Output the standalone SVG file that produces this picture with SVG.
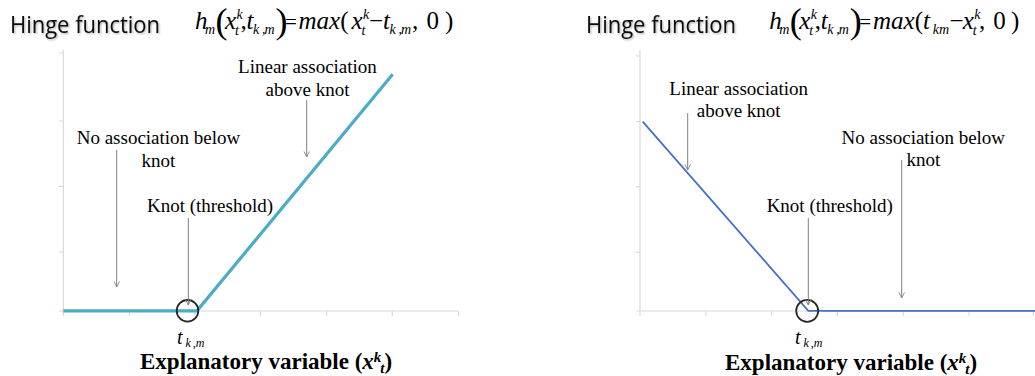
<svg xmlns="http://www.w3.org/2000/svg" width="1035" height="376" viewBox="0 0 1035 376">
<style>
.title{font-family:"Open Sans","Noto Sans","Liberation Sans",sans-serif;font-size:24px;fill:#0d0d0d;filter:url(#sh)}
.f{font-family:"Liberation Serif",serif;font-size:25px;font-style:italic;fill:#000}
.fn{font-family:"Liberation Serif",serif;font-size:25px;font-style:normal;fill:#000}
.eq{font-family:"Liberation Serif",serif;font-size:21px;font-style:normal;fill:#000}
.fs{font-family:"Liberation Serif",serif;font-size:14px;font-style:italic;fill:#000}
.fsn{font-family:"Liberation Serif",serif;font-size:14px;font-style:normal;fill:#000}
.paren{font-family:"Liberation Serif",serif;font-size:36px;fill:#000}
.ann{font-family:"Liberation Serif",serif;font-size:19px;fill:#000;text-anchor:middle}
.xl{font-family:"Liberation Serif",serif;font-size:23px;font-weight:bold;fill:#000}
.bi{font-style:italic}
.tk{font-family:"Liberation Serif",serif;font-style:italic;fill:#000}
.axis{stroke:#D9D9D9;stroke-width:1.2;fill:none}
.arrow{stroke:#7F7F7F;stroke-width:1;fill:none;marker-end:url(#ah)}
.knot{stroke:#262626;stroke-width:1.8;fill:none}
</style>
<defs>
<filter id="sh" x="-10%" y="-30%" width="120%" height="160%">
<feGaussianBlur in="SourceAlpha" stdDeviation="1"/>
<feOffset dx="1" dy="1" result="b"/>
<feComponentTransfer><feFuncA type="linear" slope="0.35"/></feComponentTransfer>
<feMerge><feMergeNode/><feMergeNode in="SourceGraphic"/></feMerge>
</filter>
<marker id="ah" viewBox="0 0 10 10" refX="9" refY="5" markerWidth="7" markerHeight="7" markerUnits="userSpaceOnUse" orient="auto">
<path d="M1,1 L9,5 L1,9" stroke="#7F7F7F" stroke-width="1.2" fill="none"/>
</marker>
</defs>

<g id="left-title">
<text class="title" x="10" y="33" textLength="150" lengthAdjust="spacingAndGlyphs">Hinge function</text>
</g>
<g id="left-formula">
<text class="f" x="195" y="29">h</text>
<text class="fs" x="205" y="34">m</text>
<text class="paren" x="215.5" y="33">(</text>
<text class="f" x="225" y="29">x</text>
<text class="fs" x="236.5" y="19">k</text>
<text class="fs" x="235" y="35">t</text>
<text class="fn" x="240.5" y="29">,</text>
<text class="f" x="246.5" y="29">t</text>
<text class="fs" x="253" y="34">k</text>
<text class="fsn" x="262" y="34">,</text>
<text class="fs" x="264.5" y="34">m</text>
<text class="paren" x="275.5" y="33">)</text>
<text class="eq" x="285" y="28.5">=</text>
<text class="f" x="298.5" y="29">max<tspan class="fn">(</tspan></text>
<text class="f" x="351.5" y="29">x</text>
<text class="fs" x="363" y="19">k</text>
<text class="fs" x="361.5" y="35">t</text>
<text class="fn" x="369" y="29">−</text>
<text class="f" x="383" y="29">t</text>
<text class="fs" x="389.5" y="34">k</text>
<text class="fsn" x="398.5" y="34">,</text>
<text class="fs" x="401" y="34">m</text>
<text class="fn" x="412" y="29">,</text>
<text class="fn" x="426.5" y="29">0</text>
<text class="fn" x="445" y="29">)</text>
</g>

<g id="left-axes">
<line class="axis" x1="63.3" y1="50" x2="63.3" y2="311"/>
<line class="axis" x1="63.3" y1="311" x2="458.3" y2="311"/>
<path class="axis" d="M59,53H63.3M59,121H63.3M59,186.5H63.3M59,252H63.3M59,311H63.3"/>
<path class="axis" d="M63.3,311V316M129.3,311V316M195,311V316M260.7,311V316M326.7,311V316M392.3,311V316M458.3,311V316"/>
</g>
<g id="left-line">
<polyline points="63.3,310.8 197,310.8 392.7,74.3" fill="none" stroke="#4BACC6" stroke-width="3.2" stroke-linejoin="miter"/>
</g>
<g id="left-knot">
<circle class="knot" cx="187.5" cy="310.8" r="10.8"/>
<text class="tk" x="177" y="344" font-size="20">t</text>
<text class="tk" x="185.5" y="347" font-size="12">k<tspan font-style="normal" dx="2">,</tspan>m</text>
</g>
<g id="left-labels">
<text class="ann" x="307.5" y="73">Linear association</text>
<text class="ann" x="307.5" y="95.5">above knot</text>
<text class="ann" x="158.5" y="144">No association below</text>
<text class="ann" x="158.5" y="166.5">knot</text>
<text class="ann" x="210" y="211.5">Knot (threshold)</text>
<text class="xl" x="140" y="369">Explanatory variable (<tspan class="bi">x</tspan><tspan class="bi" font-size="15" dy="-7">k</tspan><tspan class="bi" font-size="15" dx="-1" dy="11">t</tspan><tspan dy="-4">)</tspan></text>
</g>

<g id="right-title">
<text class="title" x="586" y="33" textLength="150" lengthAdjust="spacingAndGlyphs">Hinge function</text>
</g>
<g id="right-formula">
<text class="f" x="769.3" y="29">h</text>
<text class="fs" x="779.3" y="34">m</text>
<text class="paren" x="789.8" y="33">(</text>
<text class="f" x="799.3" y="29">x</text>
<text class="fs" x="810.8" y="19">k</text>
<text class="fs" x="809.3" y="35">t</text>
<text class="fn" x="814.8" y="29">,</text>
<text class="f" x="820.8" y="29">t</text>
<text class="fs" x="827.3" y="34">k</text>
<text class="fsn" x="836.3" y="34">,</text>
<text class="fs" x="838.8" y="34">m</text>
<text class="paren" x="849.8" y="33">)</text>
<text class="eq" x="859.3" y="28.5">=</text>
<text class="f" x="873" y="29">max<tspan class="fn">(</tspan>t</text>
<text class="fs" x="932.7" y="34">km</text>
<text class="fn" x="949.5" y="29">−</text>
<text class="f" x="962.7" y="29">x</text>
<text class="fs" x="974.2" y="19">k</text>
<text class="fs" x="972.7" y="35">t</text>
<text class="fn" x="979" y="29">,</text>
<text class="fn" x="993.3" y="29">0</text>
<text class="fn" x="1011" y="29">)</text>
</g>

<g id="right-axes">
<line class="axis" x1="640" y1="50" x2="640" y2="311"/>
<line class="axis" x1="640" y1="311" x2="1035" y2="311"/>
<path class="axis" d="M636,56H640M636,121.7H640M636,186.7H640M636,252.3H640M636,311H640"/>
<path class="axis" d="M640,311V316M706,311V316M771.7,311V316M837.3,311V316M903.3,311V316M969,311V316M1033.3,311V316"/>
</g>
<g id="right-line">
<polyline points="642.7,121.7 808.3,310.8 1035,310.8" fill="none" stroke="#4472C4" stroke-width="1.8"/>
</g>
<g id="right-knot">
<circle class="knot" cx="807.2" cy="310.8" r="11"/>
<text class="tk" x="795" y="344" font-size="20">t</text>
<text class="tk" x="803.5" y="347" font-size="12">k<tspan font-style="normal" dx="2">,</tspan>m</text>
</g>
<g id="right-labels">
<text class="ann" x="738.7" y="95">Linear association</text>
<text class="ann" x="738.7" y="117.3">above knot</text>
<text class="ann" x="923.3" y="144">No association below</text>
<text class="ann" x="923.3" y="166">knot</text>
<text class="ann" x="829.7" y="212">Knot (threshold)</text>
<text class="xl" x="725" y="370">Explanatory variable (<tspan class="bi">x</tspan><tspan class="bi" font-size="15" dy="-7">k</tspan><tspan class="bi" font-size="15" dx="-1" dy="11">t</tspan><tspan dy="-4">)</tspan></text>
</g>

<g id="connectors">
<line class="arrow" x1="306.7" y1="100" x2="306.7" y2="157"/>
<line class="arrow" x1="116.7" y1="150" x2="116.7" y2="287"/>
<line class="arrow" x1="188.3" y1="218" x2="188.3" y2="305"/>
<line class="arrow" x1="687.7" y1="113" x2="687.7" y2="170"/>
<line class="arrow" x1="808.3" y1="218" x2="808.3" y2="305"/>
<line class="arrow" x1="901.7" y1="160" x2="901.7" y2="298"/>
</g>
</svg>
